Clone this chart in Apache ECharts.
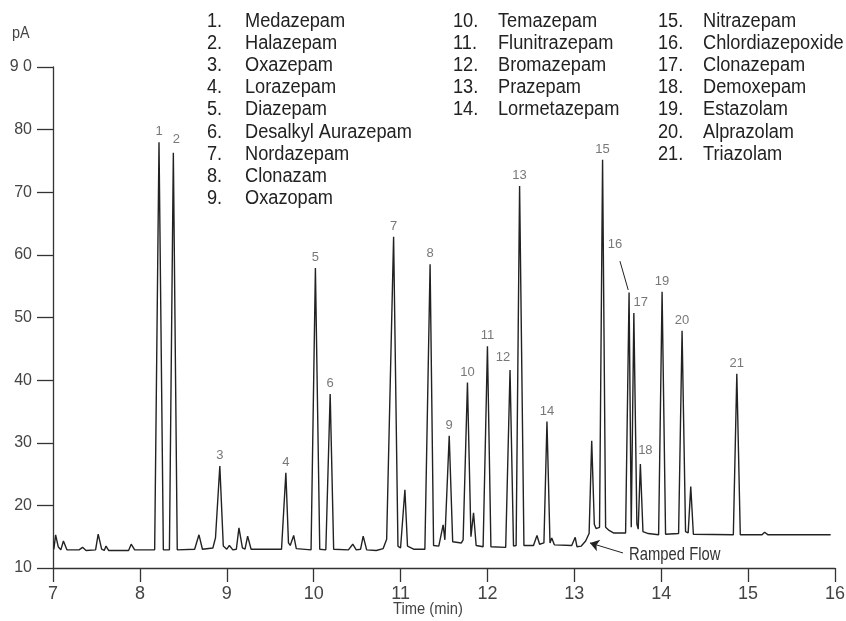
<!DOCTYPE html>
<html lang="en">
<head>
    <meta charset="UTF-8">
    <title>Benzodiazepines chromatogram</title>
</head>
<body style="margin:0">
    <div id="main" style="width: 846px;height:621px;"></div>
</body>
<script src="https://cdn.jsdelivr.net/npm/echarts@6/dist/echarts.min.js"></script>
<script type="text/javascript">
    // compound names, numbered 1..21
    var compounds = ['Medazepam', 'Halazepam', 'Oxazepam', 'Lorazepam', 'Diazepam', 'Desalkyl Aurazepam',
        'Nordazepam', 'Clonazam', 'Oxazopam', 'Temazepam', 'Flunitrazepam', 'Bromazepam', 'Prazepam',
        'Lormetazepam', 'Nitrazepam', 'Chlordiazepoxide', 'Clonazepam', 'Demoxepam', 'Estazolam',
        'Alprazolam', 'Triazolam'];
    // retention time (min) and apex height (pA) of the labelled peaks
    var peakTime = [8.22, 8.385, 8.92, 9.68, 10.02, 10.19, 10.92, 11.34, 11.56, 11.77, 12.00,
        12.26, 12.37, 12.685, 13.325, 13.63, 13.685, 13.76, 14.01, 14.24, 14.87];
    var peakHeight = [78.0, 76.3, 26.3, 25.2, 57.9, 37.8, 62.9, 58.5, 31.1, 39.6, 45.4,
        41.6, 71.0, 33.4, 75.2, 54.0, 50.7, 26.6, 54.1, 47.9, 41.0];
    // small unlabelled peaks [time, pA]
    var minorPeaks = [[7.03, 15.3], [7.12, 14.3], [7.34, 13.3], [7.52, 15.4], [7.61, 13.5], [7.90, 13.8],
        [8.68, 15.3], [8.87, 14.8], [9.03, 13.6], [9.14, 16.4], [9.24, 15.1], [9.77, 15.2],
        [10.45, 13.8], [10.57, 15.1], [10.84, 14.6], [11.05, 22.5], [11.49, 16.9], [11.72, 14.5],
        [11.84, 18.8], [12.57, 15.2], [12.74, 14.8], [13.01, 14.9], [13.13, 14.3], [13.20, 30.3],
        [14.34, 23.0], [15.19, 15.7]];
    // baseline / valley points between peaks [time, pA]
    var traceFeet = [[7.01, 13.0], [7.06, 13.4], [7.09, 12.9], [7.16, 12.9], [7.30, 12.9], [7.38, 12.8],
        [7.49, 12.9], [7.56, 13.0], [7.59, 12.8], [7.64, 12.8], [7.87, 12.8], [7.94, 12.9], [8.17, 12.9],
        [8.27, 12.9], [8.34, 12.9], [8.43, 12.9], [8.63, 13.0], [8.72, 13.0], [8.84, 13.2], [8.96, 13.5],
        [9.00, 13.0], [9.07, 12.9], [9.11, 13.0], [9.18, 13.2], [9.21, 13.0], [9.28, 13.0], [9.63, 13.0],
        [9.71, 14.0], [9.73, 13.6], [9.80, 13.1], [9.97, 12.9], [10.07, 13.0], [10.14, 12.9], [10.23, 13.0],
        [10.40, 12.9], [10.49, 12.9], [10.54, 13.0], [10.61, 12.9], [10.72, 12.8], [10.80, 13.1],
        [10.97, 13.5], [11.00, 13.2], [11.08, 13.5], [11.15, 13.0], [11.28, 13.0], [11.38, 13.6],
        [11.44, 13.5], [11.51, 14.5], [11.53, 14.2], [11.60, 14.2], [11.70, 14.0], [11.81, 15.0],
        [11.87, 13.6], [11.95, 13.4], [12.04, 13.4], [12.21, 13.3], [12.30, 13.5], [12.33, 13.6],
        [12.42, 13.6], [12.53, 13.6], [12.60, 13.8], [12.65, 14.0], [12.72, 14.0], [12.77, 13.7],
        [12.97, 13.6], [13.03, 13.4], [13.08, 13.5], [13.17, 15.5], [13.23, 17.0], [13.25, 16.3],
        [13.29, 16.5], [13.36, 16.5], [13.40, 16.0], [13.45, 15.6], [13.59, 15.6], [13.655, 16.5],
        [13.72, 17.0], [13.735, 16.2], [13.79, 15.8], [13.85, 15.5], [13.97, 15.3], [14.05, 15.4],
        [14.20, 15.5], [14.28, 15.8], [14.31, 15.6], [14.37, 15.4], [14.83, 15.3], [14.91, 15.3],
        [15.16, 15.3], [15.23, 15.3], [15.95, 15.3]];
    var xTicks = [7, 16, 1];
    var yTicks = [10, 90, 10];

    var fam = "'Liberation Sans', Arial, sans-serif";

    // whole trace: feet + apexes, ordered by time
    var trace = traceFeet.concat(minorPeaks);
    peakTime.forEach(function (t, i) { trace.push([t, peakHeight[i]]); });
    trace.sort(function (a, b) { return a[0] - b[0]; });

    // label tweaks for crowded peaks
    var labelOffset = {2: [3, -3], 12: [-7, -2], 16: [-14, -38], 17: [7, 0], 18: [5, -3]};
    var labelData = peakTime.map(function (t, i) {
        var n = i + 1;
        return {
            value: [t, peakHeight[i]],
            label: {formatter: String(n), offset: labelOffset[n] || [0, 0]}
        };
    });

    // condensed-looking text: squeeze horizontally
    function squeezed(x, y, str, size, sx, color, align) {
        return {type: 'text', x: x, y: y, scaleX: sx,
            style: {text: str, font: size + 'px ' + fam, fill: color,
                textAlign: align || 'left', textVerticalAlign: 'middle'}};
    }

    // legend text block, three columns
    var colX = [[207, 245], [453, 498], [658, 703]];
    var colStart = [0, 9, 14];
    var graphics = [];
    compounds.forEach(function (name, i) {
        var c = i >= 14 ? 2 : (i >= 9 ? 1 : 0);
        var row = i - colStart[c];
        var y = 21.5 + row * 22.1;
        graphics.push(squeezed(colX[c][0], y, (i + 1) + '.', 20, 0.91, '#222'));
        graphics.push(squeezed(colX[c][1], y, name, 20, 0.91, '#222'));
    });
    graphics.push(squeezed(12, 34, 'pA', 16, 0.9, '#444'));
    graphics.push(squeezed(629, 555, 'Ramped Flow', 19, 0.78, '#333'));
    // x axis title
    graphics.push(squeezed(428, 610, 'Time (min)', 16, 0.92, '#444', 'center'));

    var myChart = echarts.init(document.getElementById('main'));
    var option = {
        animation: false,
        backgroundColor: '#fff',
        grid: {left: 53, right: 11, top: 67, bottom: 53, outerBoundsMode: 'none', containLabel: false},
        graphic: graphics,
        xAxis: {
            type: 'value', min: xTicks[0], max: xTicks[1], interval: xTicks[2],
            axisLine: {lineStyle: {color: '#333', width: 1.3}},
            axisTick: {length: 14, lineStyle: {color: '#333', width: 1.3}},
            axisLabel: {fontFamily: fam, fontSize: 18, color: '#444', margin: 17},
            splitLine: {show: false}
        },
        yAxis: {
            type: 'value', min: yTicks[0], max: yTicks[1], interval: yTicks[2],
            axisLine: {show: true, lineStyle: {color: '#333', width: 1.3}},
            axisTick: {show: true, length: 16, lineStyle: {color: '#333', width: 1.3}},
            axisLabel: {fontFamily: fam, fontSize: 16, color: '#444', margin: 21,
                formatter: function (v) { return v === 90 ? '9 0' : v; }},
            splitLine: {show: false}
        },
        series: [{
            type: 'line',
            data: trace,
            showSymbol: false,
            symbol: 'none',
            sampling: null,
            lineStyle: {color: '#222', width: 1.4},
            markLine: {
                silent: true,
                symbol: ['none', 'none'],
                lineStyle: {color: '#222', width: 1, type: 'solid'},
                label: {show: false},
                data: [
                    [{coord: [13.56, 12.4]}, {coord: [13.18, 14.0], symbol: 'arrow', symbolSize: 9}],
                    [{coord: [13.525, 59.0]}, {coord: [13.62, 54.4]}]
                ]
            }
        }, {
            type: 'scatter',
            data: labelData,
            symbolSize: 0,
            silent: true,
            label: {show: true, position: 'top', distance: 4,
                fontFamily: fam, fontSize: 13, color: '#555'}
        }]
    };
    myChart.setOption(option);
</script>
</html>
